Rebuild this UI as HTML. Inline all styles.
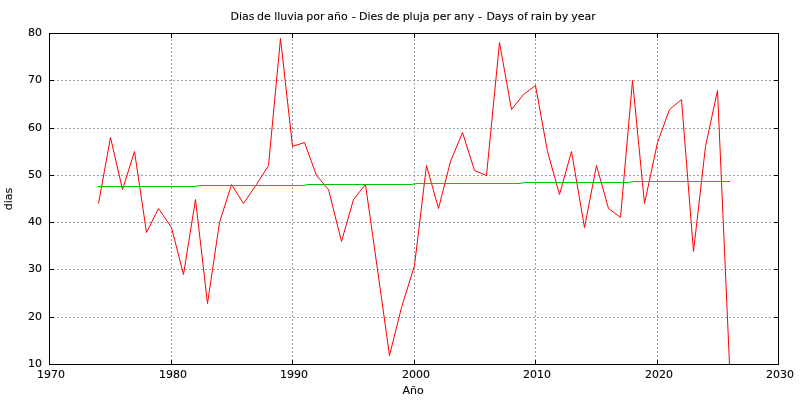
<!DOCTYPE html>
<html><head><meta charset="utf-8"><title>Dias de lluvia</title>
<style>html,body{margin:0;padding:0;background:#fff}svg{display:block}</style></head><body>
<svg width="800" height="400" viewBox="0 0 800 400">
<rect width="800" height="400" fill="#fff"/>
<g stroke="#a0a0a0" stroke-width="1" stroke-dasharray="2 2" shape-rendering="crispEdges" fill="none">
<line x1="49" y1="317.5" x2="779" y2="317.5"/>
<line x1="49" y1="269.5" x2="779" y2="269.5"/>
<line x1="49" y1="222.5" x2="779" y2="222.5"/>
<line x1="49" y1="175.5" x2="779" y2="175.5"/>
<line x1="49" y1="128.5" x2="779" y2="128.5"/>
<line x1="49" y1="80.5" x2="779" y2="80.5"/>
<line x1="171.5" y1="365" x2="171.5" y2="33"/>
<line x1="292.5" y1="365" x2="292.5" y2="33"/>
<line x1="414.5" y1="365" x2="414.5" y2="33"/>
<line x1="535.5" y1="365" x2="535.5" y2="33"/>
<line x1="657.5" y1="365" x2="657.5" y2="33"/>
</g>
<clipPath id="c"><rect x="49" y="33" width="730" height="332"/></clipPath>
<g clip-path="url(#c)" fill="none" stroke-linejoin="round">
<polyline stroke="#ff0000" stroke-width="1" points="98.50,203.50 110.50,137.50 122.50,189.50 134.50,151.50 146.50,232.50 158.50,208.50 171.50,227.50 183.50,274.50 195.50,199.50 207.50,303.50 219.50,222.50 231.50,184.50 243.50,203.50 256.50,184.50 268.50,165.50 280.50,38.50 292.50,146.50 304.50,142.50 316.50,175.50 328.50,189.50 341.50,241.50 353.50,199.50 365.50,184.50 377.50,269.50 389.50,355.50 401.50,307.50 414.50,265.50 426.50,165.50 438.50,208.50 450.50,161.50 462.50,132.50 474.50,170.50 486.50,175.50 499.50,42.50 511.50,109.50 523.50,94.50 535.50,85.50 547.50,151.50 559.50,194.50 571.50,151.50 584.50,227.50 596.50,165.50 608.50,208.50 620.50,217.50 632.50,80.50 644.50,203.50 657.50,142.50 669.50,109.50 681.50,99.50 693.50,251.50 705.50,146.50 717.50,90.50 729.50,364.50"/>
<rect x="98.0" y="186.0" width="96.0" height="1" fill="#00c000" stroke="none" shape-rendering="crispEdges"/><line x1="193.5" y1="186.5" x2="200.5" y2="185.5" stroke="#00c000" stroke-width="1"/><rect x="200.0" y="185.0" width="103.0" height="1" fill="#00c000" stroke="none" shape-rendering="crispEdges"/><line x1="302.5" y1="185.5" x2="308.5" y2="184.5" stroke="#00c000" stroke-width="1"/><rect x="308.0" y="184.0" width="103.0" height="1" fill="#00c000" stroke="none" shape-rendering="crispEdges"/><line x1="410.5" y1="184.5" x2="417.5" y2="183.5" stroke="#00c000" stroke-width="1"/><rect x="417.0" y="183.0" width="103.0" height="1" fill="#00c000" stroke="none" shape-rendering="crispEdges"/><line x1="519.5" y1="183.5" x2="525.5" y2="182.5" stroke="#00c000" stroke-width="1"/><rect x="525.0" y="182.0" width="103.0" height="1" fill="#00c000" stroke="none" shape-rendering="crispEdges"/><line x1="627.5" y1="182.5" x2="634.5" y2="181.5" stroke="#00c000" stroke-width="1"/><rect x="634.0" y="181.0" width="96.0" height="1" fill="#00c000" stroke="none" shape-rendering="crispEdges"/>
</g>
<g stroke="#000" stroke-width="1" shape-rendering="crispEdges" fill="none">
<line x1="49" y1="317.5" x2="54" y2="317.5"/><line x1="774" y1="317.5" x2="779" y2="317.5"/>
<line x1="49" y1="269.5" x2="54" y2="269.5"/><line x1="774" y1="269.5" x2="779" y2="269.5"/>
<line x1="49" y1="222.5" x2="54" y2="222.5"/><line x1="774" y1="222.5" x2="779" y2="222.5"/>
<line x1="49" y1="175.5" x2="54" y2="175.5"/><line x1="774" y1="175.5" x2="779" y2="175.5"/>
<line x1="49" y1="128.5" x2="54" y2="128.5"/><line x1="774" y1="128.5" x2="779" y2="128.5"/>
<line x1="49" y1="80.5" x2="54" y2="80.5"/><line x1="774" y1="80.5" x2="779" y2="80.5"/>
<line x1="171.5" y1="365" x2="171.5" y2="360"/><line x1="171.5" y1="33" x2="171.5" y2="38"/>
<line x1="292.5" y1="365" x2="292.5" y2="360"/><line x1="292.5" y1="33" x2="292.5" y2="38"/>
<line x1="414.5" y1="365" x2="414.5" y2="360"/><line x1="414.5" y1="33" x2="414.5" y2="38"/>
<line x1="535.5" y1="365" x2="535.5" y2="360"/><line x1="535.5" y1="33" x2="535.5" y2="38"/>
<line x1="657.5" y1="365" x2="657.5" y2="360"/><line x1="657.5" y1="33" x2="657.5" y2="38"/>
<rect x="49.5" y="33.5" width="729" height="331"/>
</g>
<g font-family="DejaVu Sans, Verdana, Liberation Sans, sans-serif" font-size="11" fill="#000" stroke="#000" stroke-width="0.1">
<text y="19.5" xml:space="preserve"><tspan x="230.42">Dias </tspan><tspan x="257.11">de </tspan><tspan x="274.16">lluvia </tspan><tspan x="306.25">por </tspan><tspan x="327.18">año </tspan><tspan x="351.82">- </tspan><tspan x="358.97">Dies </tspan><tspan x="385.80">de </tspan><tspan x="402.65">pluja </tspan><tspan x="432.70">per </tspan><tspan x="454.12">any </tspan><tspan x="477.88">- </tspan><tspan x="486.40">Days </tspan><tspan x="517.16">of </tspan><tspan x="530.75">rain </tspan><tspan x="554.75">by </tspan><tspan x="571.33">year</tspan></text>
<text x="51.0" y="378.4" text-anchor="middle">1970</text>
<text x="173.0" y="378.4" text-anchor="middle">1980</text>
<text x="294.0" y="378.4" text-anchor="middle">1990</text>
<text x="416.0" y="378.4" text-anchor="middle">2000</text>
<text x="537.0" y="378.4" text-anchor="middle">2010</text>
<text x="659.0" y="378.4" text-anchor="middle">2020</text>
<text x="780.0" y="378.4" text-anchor="middle">2030</text>
<text x="42" y="367.0" text-anchor="end">10</text>
<text x="42" y="320.0" text-anchor="end">20</text>
<text x="42" y="272.0" text-anchor="end">30</text>
<text x="42" y="225.0" text-anchor="end">40</text>
<text x="42" y="178.0" text-anchor="end">50</text>
<text x="42" y="131.0" text-anchor="end">60</text>
<text x="42" y="83.0" text-anchor="end">70</text>
<text x="42" y="36.0" text-anchor="end">80</text>
<text x="413.2" y="394" text-anchor="middle">Año</text>
<text transform="translate(11.8,199) rotate(-90)" text-anchor="middle">dias</text>
</g>
</svg></body></html>
